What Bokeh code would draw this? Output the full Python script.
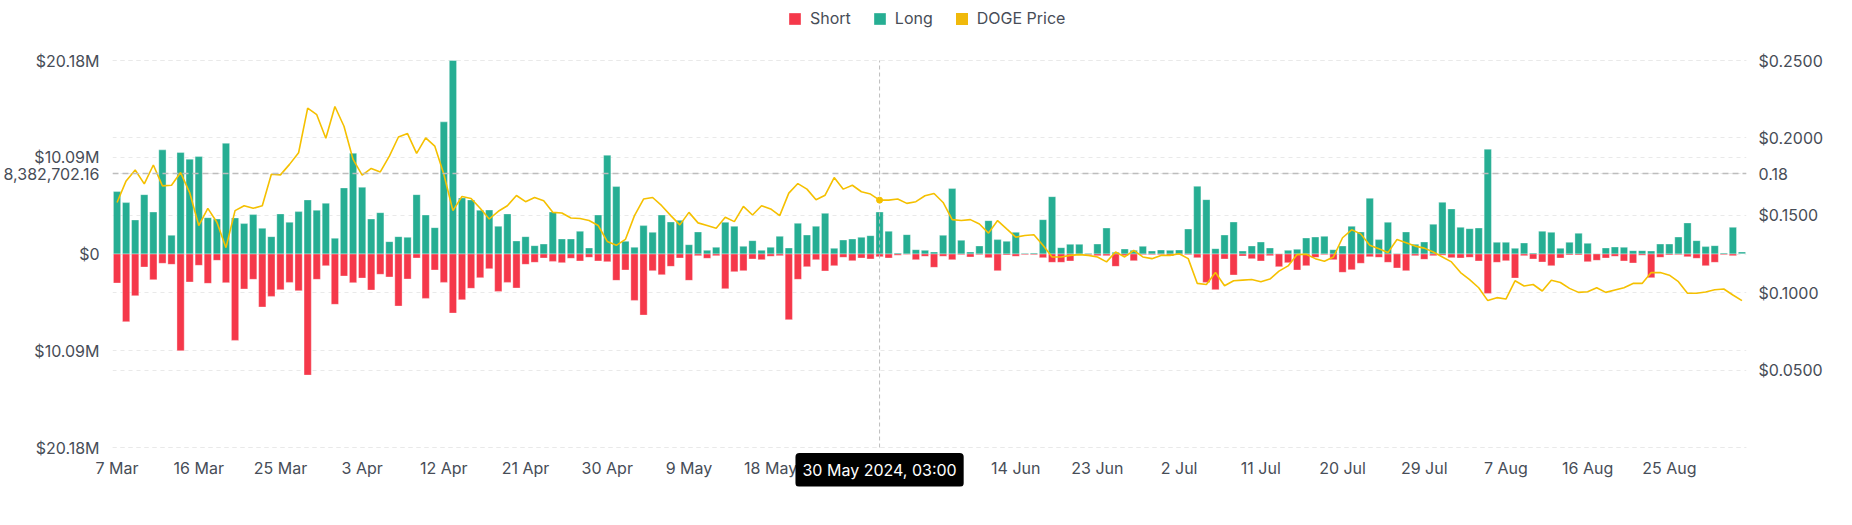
from bokeh.plotting import figure
from bokeh.models import (Range1d, LinearAxis, FixedTicker, Grid, Span, Label,
                          Legend, LegendItem, ColumnDataSource)
from bokeh.embed import file_html
from bokeh.resources import INLINE

# ---------------- data (daily, 7 Mar 2024 .. 2 Sep 2024) ----------------
day_index = list(range(180))

long_m = [
    6.51, 5.36, 3.55, 6.19, 4.38, 10.86, 1.95, 10.58, 9.88, 10.16,
    3.79, 3.65, 11.55, 3.76, 3.17, 4.11, 2.68, 1.81, 4.18, 3.31,
    4.42, 5.64, 4.56, 5.29, 1.64, 6.89, 10.51, 6.96, 3.65, 4.31,
    1.29, 1.81, 1.74, 6.19, 4.07, 2.75, 13.78, 20.18, 5.85, 5.64,
    4.56, 4.59, 2.89, 4.18, 1.36, 1.81, 0.87, 1.04, 4.38, 1.57,
    1.57, 2.37, 0.63, 4.07, 10.30, 7.03, 1.32, 0.70, 2.96, 2.26,
    4.07, 3.34, 3.51, 0.97, 2.30, 0.38, 0.70, 3.31, 2.89, 0.80,
    1.39, 0.38, 0.70, 1.84, 0.63, 3.20, 1.98, 2.89, 4.24, 0.59,
    1.46, 1.57, 1.74, 1.91, 4.38, 2.37, 0.10, 2.02, 0.45, 0.38,
    0.21, 1.95, 6.82, 1.43, 0.21, 0.84, 3.48, 1.50, 1.32, 2.26,
    0.07, 0.10, 3.58, 5.98, 0.66, 1.01, 1.01, 0.07, 1.04, 2.71,
    0.17, 0.52, 0.38, 0.80, 0.31, 0.42, 0.38, 0.42, 2.61, 7.06,
    5.67, 0.56, 1.98, 3.34, 0.31, 0.84, 1.25, 0.63, 0.03, 0.38,
    0.49, 1.67, 1.77, 1.84, 0.45, 0.84, 2.89, 2.30, 5.81, 1.50,
    3.31, 0.05, 2.30, 1.01, 1.25, 3.10, 5.39, 4.70, 2.78, 2.64,
    2.71, 10.93, 1.22, 1.22, 0.59, 1.15, 0.10, 2.37, 2.26, 0.59,
    1.22, 2.16, 1.11, 0.03, 0.63, 0.73, 0.70, 0.35, 0.35, 0.31,
    1.04, 1.04, 1.77, 3.24, 1.39, 0.77, 0.87, 0.10, 2.78, 0.21,
]

short_m = [
    3.03, 7.06, 4.35, 1.36, 2.68, 0.97, 1.08, 10.09, 2.92, 1.18,
    3.06, 0.66, 2.99, 9.01, 3.65, 2.64, 5.53, 4.42, 3.72, 2.96,
    3.83, 12.63, 2.64, 1.22, 5.25, 2.30, 2.99, 2.51, 3.76, 2.12,
    2.40, 5.43, 2.61, 0.42, 4.63, 1.67, 2.96, 6.16, 4.77, 3.58,
    2.47, 1.53, 3.90, 2.96, 3.55, 1.08, 0.87, 0.42, 0.77, 0.90,
    0.45, 0.73, 0.35, 0.73, 0.80, 2.75, 1.67, 4.84, 6.37, 1.74,
    2.16, 1.29, 0.42, 2.75, 0.17, 0.45, 0.17, 3.62, 1.84, 1.74,
    0.52, 0.59, 0.24, 0.17, 6.85, 2.64, 1.32, 0.59, 1.77, 1.22,
    0.35, 0.70, 0.42, 0.52, 0.28, 0.42, 0.14, 0.05, 0.59, 0.24,
    1.39, 0.24, 0.59, 0.07, 0.31, 0.07, 0.38, 1.74, 0.10, 0.24,
    0.07, 0.07, 0.38, 0.87, 0.87, 0.73, 0.07, 0.07, 0.17, 0.17,
    1.29, 0.17, 0.70, 0.07, 0.07, 0.07, 0.21, 0.07, 0.07, 0.38,
    2.96, 3.72, 0.52, 2.19, 0.21, 0.49, 0.73, 0.17, 1.32, 0.90,
    1.67, 1.22, 0.35, 0.07, 0.59, 1.91, 1.64, 0.97, 0.28, 0.35,
    0.87, 1.46, 1.74, 0.17, 0.56, 0.17, 0.14, 0.38, 0.42, 0.35,
    0.73, 4.11, 0.87, 0.70, 2.51, 0.17, 0.52, 0.84, 1.22, 0.42,
    0.10, 0.10, 0.80, 0.66, 0.42, 0.24, 0.73, 0.94, 0.14, 2.47,
    0.35, 0.10, 0.07, 0.28, 0.45, 1.22, 0.87, 0.07, 0.17, 0.00,
]

doge_price = [
    0.1583, 0.1722, 0.1793, 0.1703, 0.1825, 0.1690, 0.1694, 0.1776, 0.1647, 0.1434,
    0.1545, 0.1455, 0.1291, 0.1530, 0.1562, 0.1545, 0.1562, 0.1765, 0.1761, 0.1829,
    0.1904, 0.2192, 0.2150, 0.1998, 0.2203, 0.2075, 0.1861, 0.1759, 0.1803, 0.1780,
    0.1882, 0.2006, 0.2028, 0.1900, 0.2000, 0.1947, 0.1765, 0.1530, 0.1622, 0.1609,
    0.1545, 0.1476, 0.1526, 0.1562, 0.1628, 0.1588, 0.1615, 0.1594, 0.1519, 0.1515,
    0.1483, 0.1479, 0.1466, 0.1434, 0.1331, 0.1306, 0.1344, 0.1498, 0.1605, 0.1615,
    0.1562, 0.1498, 0.1438, 0.1519, 0.1451, 0.1434, 0.1417, 0.1487, 0.1459, 0.1558,
    0.1502, 0.1562, 0.1541, 0.1498, 0.1643, 0.1705, 0.1669, 0.1600, 0.1630, 0.1744,
    0.1669, 0.1694, 0.1652, 0.1637, 0.1598, 0.1598, 0.1605, 0.1577, 0.1588, 0.1626,
    0.1641, 0.1583, 0.1472, 0.1466, 0.1472, 0.1444, 0.1385, 0.1466, 0.1412, 0.1359,
    0.1370, 0.1374, 0.1306, 0.1231, 0.1231, 0.1241, 0.1246, 0.1241, 0.1231, 0.1199,
    0.1263, 0.1231, 0.1274, 0.1231, 0.1220, 0.1241, 0.1241, 0.1252, 0.1220, 0.1060,
    0.1053, 0.1130, 0.1045, 0.1077, 0.1081, 0.1085, 0.1071, 0.1088, 0.1139, 0.1173,
    0.1246, 0.1248, 0.1220, 0.1203, 0.1231, 0.1355, 0.1406, 0.1380, 0.1306, 0.1284,
    0.1259, 0.1344, 0.1323, 0.1301, 0.1288, 0.1263, 0.1231, 0.1199, 0.1130, 0.1085,
    0.1032, 0.0949, 0.0968, 0.0959, 0.1077, 0.1043, 0.1053, 0.1011, 0.1081, 0.1066,
    0.1028, 0.1002, 0.1006, 0.1032, 0.1002, 0.1017, 0.1032, 0.1060, 0.1060, 0.1130,
    0.1130, 0.1113, 0.1071, 0.0996, 0.0996, 0.1004, 0.1019, 0.1024, 0.0985, 0.0949,
]

x_tick_positions = [0, 9, 18, 27, 36, 45, 54, 63, 72, 81, 90, 99, 108, 117, 126, 135, 144, 153, 162, 171]
x_tick_labels = ["7 Mar", "16 Mar", "25 Mar", "3 Apr", "12 Apr", "21 Apr", "30 Apr", "9 May",
                 "18 May", "27 May", "5 Jun", "14 Jun", "23 Jun", "2 Jul", "11 Jul", "20 Jul",
                 "29 Jul", "7 Aug", "16 Aug", "25 Aug"]

left_tick_values = [-20180000, -10090000, 0, 10090000, 20180000]
left_tick_labels = ["$20.18M", "$10.09M", "$0", "$10.09M", "$20.18M"]

right_tick_values = [0.05, 0.10, 0.15, 0.20, 0.25]
right_tick_labels = ["$0.0500", "$0.1000", "$0.1500", "$0.2000", "$0.2500"]
right_grid_values = [0.0, 0.05, 0.10, 0.15, 0.20, 0.25]

cursor_index = 84
cursor_value = 8382702.16
cursor_value_text = "8,382,702.16"
cursor_price_text = "0.18"
cursor_date_text = "30 May 2024, 03:00"

series_names = ["Short", "Long", "DOGE Price"]

# ---------------- style / geometry ----------------
FONT = "Inter"
FS = "16px"
TEXT = "#474D57"
TEAL = "#26AE93"
RED = "#F5384A"
YELLOW = "#F5C000"
YELLOW_KEY = "#F0B90B"
GRID = "#E9E9E9"

LEFT_MAX = 20180000
PRICE_MAX = 0.25

W, H = 1836, 509
BOTTOM_BORDER_PX = 23     # canvas strip kept below the frame
TOP_PAD_PX = 60           # frame room above the +-20.18M band (legend lives there)
PLOT_PX = 387             # height of the +-20.18M band in pixels
FRAME_PX = H - BOTTOM_BORDER_PX
BOTTOM_PAD_PX = FRAME_PX - TOP_PAD_PX - PLOT_PX   # frame room below the band (x labels)

u = 2 * LEFT_MAX / PLOT_PX
pu = PRICE_MAX / PLOT_PX

source = ColumnDataSource(data=dict(
    x=day_index,
    long=[v * 1e6 for v in long_m],
    short=[-v * 1e6 for v in short_m],
    price=doge_price,
))

p = figure(width=W, height=H, output_backend="svg", toolbar_location=None,
           x_range=Range1d(-0.5, len(day_index) - 0.5),
           y_range=Range1d(-LEFT_MAX - BOTTOM_PAD_PX * u, LEFT_MAX + TOP_PAD_PX * u),
           min_border_left=112, min_border_right=90,
           min_border_top=0, min_border_bottom=BOTTOM_BORDER_PX,
           background_fill_color="white", border_fill_color="white")
if p.title is not None:
    p.title.visible = False
p.outline_line_color = None
p.extra_y_ranges = {"price": Range1d(-BOTTOM_PAD_PX * pu, PRICE_MAX + TOP_PAD_PX * pu)}

# grids
p.xgrid.visible = False
p.ygrid.grid_line_color = GRID
p.ygrid.grid_line_dash = "4 4"
p.ygrid.grid_line_width = 1
right_grid = Grid(dimension=1, ticker=FixedTicker(ticks=right_grid_values),
                  y_range_name="price", grid_line_color=GRID,
                  grid_line_dash="4 4", grid_line_width=1)
p.add_layout(right_grid)

# bars
r_long = p.vbar(x="x", top="long", bottom=0, width=0.8, source=source,
                fill_color=TEAL, line_color="white", line_alpha=0.35, line_width=1)
r_short = p.vbar(x="x", top=0, bottom="short", width=0.8, source=source,
                 fill_color=RED, line_color="white", line_alpha=0.35, line_width=1)

# price line
p.line(x="x", y="price", source=source, y_range_name="price",
       line_color=YELLOW, line_width=1.6)

# zero-height bar used only as the square legend key of the price
key_src = ColumnDataSource(data=dict(x=[day_index[0]], top=[0.0]))
r_key = p.vbar(x="x", top="top", bottom=0, width=0.8, source=key_src,
               fill_color=YELLOW_KEY, line_color=None, y_range_name="price")

# axes
def style_axis(ax):
    ax.axis_line_color = None
    ax.major_tick_line_color = None
    ax.minor_tick_line_color = None
    ax.major_tick_out = 0
    ax.major_tick_in = 0
    ax.minor_tick_out = 0
    ax.minor_tick_in = 0
    ax.major_label_text_font = FONT
    ax.major_label_text_font_size = FS
    ax.major_label_text_color = TEXT

xa = p.xaxis[0]
xa.ticker = FixedTicker(ticks=x_tick_positions)
xa.major_label_overrides = dict(zip(x_tick_positions, x_tick_labels))
style_axis(xa)
# labels are pulled up from the frame edge to sit just under the value band
xa.major_label_standoff = -(BOTTOM_PAD_PX - 10)

# left axis; the cursor read-out sits on it at the crosshair height
ya = p.yaxis[0]
ya.ticker = FixedTicker(ticks=left_tick_values + [cursor_value])
ya.major_label_overrides = dict(zip(left_tick_values + [cursor_value],
                                    left_tick_labels + [cursor_value_text]))
style_axis(ya)
ya.major_label_standoff = 13

# right axis; the cursor read-out "0.18" sits on it at the crosshair height
cursor_price_pos = (cursor_value + LEFT_MAX) / (2 * LEFT_MAX) * PRICE_MAX
ra = LinearAxis(y_range_name="price",
                ticker=FixedTicker(ticks=right_tick_values + [cursor_price_pos]))
ra.major_label_overrides = dict(zip(right_tick_values + [cursor_price_pos],
                                    right_tick_labels + [cursor_price_text]))
style_axis(ra)
ra.major_label_standoff = 12
p.add_layout(ra, "right")

# crosshair (hover state in the original)
p.segment(x0=[cursor_index], y0=[-LEFT_MAX], x1=[cursor_index], y1=[LEFT_MAX],
          line_color="#BDBDBD", line_dash="4 3", line_width=1)
p.add_layout(Span(location=cursor_value, dimension="width", line_color="#BDBDBD",
                  line_dash="6 4", line_width=1.5))
p.scatter(x=[day_index[cursor_index]], y=[doge_price[cursor_index]], y_range_name="price",
          size=6, fill_color=YELLOW, line_color=YELLOW)

# cursor date read-out on the x axis
p.add_layout(Label(x=cursor_index, y=-LEFT_MAX - 22.5 * u, text=cursor_date_text,
                   text_align="center", text_baseline="middle",
                   text_color="white", text_font=FONT, text_font_size=FS,
                   text_font_style="normal",
                   background_fill_color="black", padding=7, border_radius=4))

# series legend (top centre)
legend = Legend(items=[LegendItem(label=series_names[0], renderers=[r_short]),
                       LegendItem(label=series_names[1], renderers=[r_long]),
                       LegendItem(label=series_names[2], renderers=[r_key])],
                orientation="horizontal", location=(675, FRAME_PX - 28),
                glyph_width=15, glyph_height=15, label_height=15, label_standoff=8,
                spacing=21, padding=0, margin=0, border_line_color=None,
                background_fill_alpha=0, label_text_font=FONT,
                label_text_font_size=FS, label_text_color=TEXT)
p.add_layout(legend)

open("out.html", "w").write(file_html(p, INLINE))
